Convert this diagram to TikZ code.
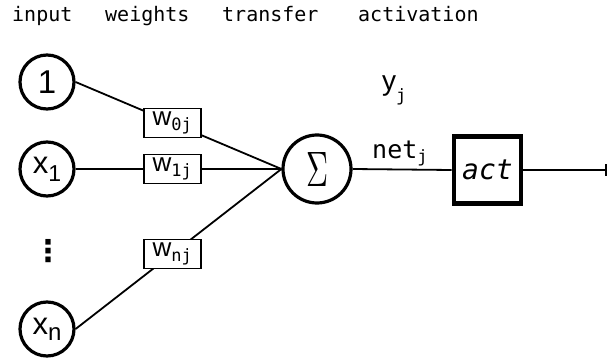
\documentclass[tikz,border=0pt]{standalone}
\usepackage{fontspec}
\usepackage{graphicx}
\setmainfont{Liberation Sans}
\setmonofont{DejaVu Sans Mono}
\newfontfamily\symfont{DejaVu Sans}
\usetikzlibrary{arrows.meta}

% label with a lowered subscript: #1 main size, #2 main text, #3 sub size, #4 drop, #5 sub text
\newcommand\sublabel[5]{{\fontsize{#1}{#1}\selectfont #2}\raisebox{-#4}{\fontsize{#3}{#3}\selectfont\ttfamily #5}}
\newcommand\sublabelsf[5]{{\fontsize{#1}{#1}\selectfont #2}\raisebox{-#4}{\fontsize{#3}{#3}\selectfont #5}}

\tikzset{
  neuron/.style={circle, draw, line width=3.2pt, minimum size=54pt, inner sep=0pt},
  wbox/.style={draw, line width=1.6pt, fill=white, minimum width=57pt, minimum height=29pt, inner sep=0pt},
  wire/.style={line width=1.8pt},
  hdr/.style={anchor=base west, inner sep=0pt, font=\fontsize{20}{24}\selectfont\ttfamily},
  plain/.style={anchor=base west, inner sep=0pt},
}

\begin{document}
\begin{tikzpicture}[x=1pt, y=-1pt]
\useasboundingbox (0,0) rectangle (608,361);

% column headings
\node[hdr] (hin) at (12,22) {input};
\node[hdr] (hw)  at (105,22) {weights};
\node[hdr] (ht)  at (222,22) {transfer};
\node[hdr] (ha)  at (358,22) {activation};

% inputs
\node[neuron] (i0) at (47,82)  {\fontsize{33}{33}\selectfont 1};
\node[neuron] (i1) at (47,169) {\sublabelsf{31}{x}{23}{8pt}{1}};
\node[inner sep=0pt] (dots) at (48,251) {\fontsize{30}{30}\selectfont\symfont\bfseries ⋮};
\node[neuron] (in) at (47,329) {\sublabelsf{31}{x}{24}{6pt}{n}};

% summation and activation
\node[neuron, minimum size=68pt] (sum) at (317,169) {\resizebox{22pt}{34pt}{$\Sigma$}};
\node[draw, line width=4.8pt, minimum size=67pt, inner sep=0pt] (act) at (487.5,170)
  {\fontsize{28}{28}\selectfont\ttfamily\itshape act};
\coordinate (out) at (606.5,170);

% weighted connections
\draw[wire] (i0.east) -- (sum.west) node[wbox, pos=0.47] (w0) {\sublabel{26}{w}{17}{5pt}{0j}};
\draw[wire] (i1.east) -- (sum.west) node[wbox, pos=0.47] (w1) {\sublabel{26}{w}{17}{5pt}{1j}};
\draw[wire] (in.east) -- (sum.west) node[wbox, pos=0.47] (wn) {\sublabel{26}{w}{17}{5pt}{nj}};

% output
\draw[wire] (sum.east) -- (act.west);
\draw[wire, -{Bar[width=12pt, line width=1.8pt]}] (act.east) -- (out);

% signal labels
\node[plain] (yj) at (382,90) {\sublabel{28}{y}{17}{11pt}{j}};
\node[plain] (netj) at (372,158) {\sublabel{25}{\ttfamily net}{17}{4pt}{j}};
\end{tikzpicture}
\end{document}
